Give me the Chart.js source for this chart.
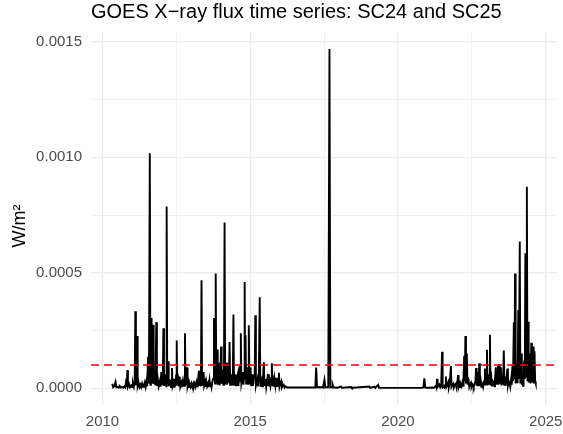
<!DOCTYPE html>
<html>
<head>
<meta charset="utf-8">
<script src="https://cdn.jsdelivr.net/npm/chart.js@4.4.0/dist/chart.umd.min.js"></script>
<style>
  html, body { margin: 0; padding: 0; background: #fff; }
  #wrap { width: 563px; height: 434px; }
</style>
</head>
<body>
<div id="wrap"><canvas id="fluxChart" width="563" height="434"></canvas></div>
<script>
// readings as [decimal year, flux in microW/m2]
var sc24Obs = [
  [2010.33, 19], [2010.36, 3], [2010.40, 8], [2010.44, 27], [2010.47, 4], [2010.51, 6], [2010.55, 2], [2010.58, 10],
  [2010.62, 3], [2010.66, 5], [2010.70, 2], [2010.74, 8], [2010.77, 3], [2010.81, 42], [2010.825, 5], [2010.84, 78],
  [2010.86, 6], [2010.90, 18], [2010.93, 4], [2010.97, 12], [2011.00, 5], [2011.03, 22], [2011.06, 6], [2011.09, 30],
  [2011.11, 333], [2011.13, 12], [2011.15, 40], [2011.17, 226], [2011.19, 10], [2011.22, 25], [2011.25, 5], [2011.28, 15],
  [2011.31, 4], [2011.34, 20], [2011.37, 6], [2011.40, 12], [2011.43, 25], [2011.46, 5], [2011.49, 30], [2011.51, 8],
  [2011.54, 136], [2011.57, 20], [2011.60, 1018], [2011.62, 15], [2011.64, 60], [2011.66, 304], [2011.68, 20], [2011.71, 275],
  [2011.73, 18], [2011.76, 45], [2011.79, 12], [2011.82, 286], [2011.84, 10], [2011.87, 40], [2011.90, 8], [2011.94, 30],
  [2011.96, 6], [2011.99, 70], [2012.01, 12], [2012.04, 45], [2012.06, 260], [2012.08, 10], [2012.11, 30], [2012.14, 60],
  [2012.155, 8], [2012.17, 787], [2012.19, 20], [2012.22, 116], [2012.24, 8], [2012.27, 35], [2012.30, 30], [2012.32, 5],
  [2012.35, 87], [2012.37, 10], [2012.40, 25], [2012.42, 6], [2012.44, 40], [2012.47, 10], [2012.49, 55], [2012.51, 206],
  [2012.53, 12], [2012.56, 35], [2012.58, 8], [2012.61, 50], [2012.63, 6], [2012.66, 20], [2012.68, 4], [2012.70, 25],
  [2012.72, 8], [2012.75, 30], [2012.77, 10], [2012.79, 238], [2012.81, 12], [2012.84, 40], [2012.86, 90], [2012.88, 8],
  [2012.91, 25], [2012.93, 5], [2012.96, 15], [2012.98, 6], [2013.01, 20], [2013.04, 4], [2013.07, 18], [2013.09, 5],
  [2013.12, 20], [2013.15, 6], [2013.18, 25], [2013.20, 8], [2013.23, 30], [2013.26, 75], [2013.28, 10], [2013.30, 40],
  [2013.33, 8], [2013.35, 467], [2013.37, 15], [2013.40, 30], [2013.42, 70], [2013.44, 10], [2013.47, 25], [2013.49, 6],
  [2013.51, 30], [2013.54, 8], [2013.57, 20], [2013.59, 5], [2013.62, 35], [2013.64, 8], [2013.67, 25], [2013.69, 6],
  [2013.72, 30], [2013.745, 40], [2013.77, 304], [2013.79, 50], [2013.81, 20], [2013.83, 497], [2013.85, 25], [2013.88, 167],
  [2013.90, 15], [2013.92, 60], [2013.94, 110], [2013.96, 12], [2013.99, 50], [2014.01, 180], [2014.03, 20], [2014.05, 45],
  [2014.07, 80], [2014.09, 15], [2014.11, 60], [2014.13, 718], [2014.15, 20], [2014.17, 40], [2014.19, 110], [2014.21, 15],
  [2014.24, 110], [2014.26, 25], [2014.28, 60], [2014.30, 200], [2014.32, 15], [2014.34, 35], [2014.36, 60], [2014.38, 12],
  [2014.41, 50], [2014.43, 319], [2014.45, 15], [2014.48, 30], [2014.50, 60], [2014.52, 12], [2014.55, 40], [2014.58, 60],
  [2014.60, 10], [2014.62, 50], [2014.64, 95], [2014.66, 30], [2014.68, 238], [2014.70, 20], [2014.73, 40], [2014.75, 70],
  [2014.77, 15], [2014.79, 60], [2014.81, 460], [2014.825, 40], [2014.84, 230], [2014.86, 20], [2014.88, 45], [2014.90, 90],
  [2014.92, 15], [2014.93, 60], [2014.95, 273], [2014.97, 20], [2014.99, 40], [2015.01, 90], [2015.03, 12], [2015.05, 30],
  [2015.07, 60], [2015.09, 10], [2015.12, 40], [2015.15, 50], [2015.17, 316], [2015.19, 12], [2015.22, 30], [2015.24, 40],
  [2015.26, 8], [2015.29, 60], [2015.32, 394], [2015.34, 10], [2015.36, 30], [2015.38, 50], [2015.40, 8], [2015.43, 40],
  [2015.46, 112], [2015.48, 10], [2015.50, 25], [2015.52, 40], [2015.54, 6], [2015.57, 35], [2015.59, 10], [2015.61, 60],
  [2015.63, 8], [2015.65, 30], [2015.68, 10], [2015.71, 45], [2015.73, 108], [2015.75, 8], [2015.78, 30], [2015.80, 6],
  [2015.82, 40], [2015.85, 10], [2015.88, 45], [2015.90, 6], [2015.93, 25], [2015.95, 10], [2015.97, 67], [2015.99, 6],
  [2016.02, 20], [2016.05, 30], [2016.07, 4], [2016.10, 12], [2016.13, 15], [2016.16, 3], [2016.19, 8], [2016.22, 6],
  [2016.25, 3], [2016.27, 3]
];

var minimumObs = [
  [2017.20, 3], [2017.23, 89], [2017.26, 4], [2017.32, 5], [2017.36, 2], [2017.41, 5], [2017.46, 2], [2017.51, 36],
  [2017.54, 3], [2017.57, 5], [2017.64, 4], [2017.68, 1469], [2017.71, 4], [2017.74, 5], [2017.77, 3], [2017.79, 15],
  [2017.82, 3], [2017.85, 3], [2017.95, 2], [2018.07, 7], [2018.10, 2], [2018.13, 2], [2018.41, 5], [2018.44, 1],
  [2018.47, 2], [2019.03, 7], [2019.06, 1], [2019.20, 7], [2019.23, 1], [2019.33, 14], [2019.36, 1], [2019.39, 1],
  [2020.78, 1], [2020.86, 3], [2020.89, 43], [2020.92, 3], [2020.95, 2]
];

var sc25Obs = [
  [2021.05, 2], [2021.17, 3], [2021.22, 2], [2021.28, 10], [2021.30, 3], [2021.32, 40], [2021.34, 4], [2021.37, 8],
  [2021.40, 15], [2021.43, 3], [2021.46, 10], [2021.49, 158], [2021.51, 4], [2021.54, 8], [2021.57, 3], [2021.60, 15],
  [2021.62, 50], [2021.64, 5], [2021.67, 12], [2021.70, 25], [2021.72, 4], [2021.75, 20], [2021.79, 96], [2021.81, 6],
  [2021.84, 15], [2021.87, 20], [2021.89, 3], [2021.92, 12], [2021.96, 20], [2021.98, 4], [2022.01, 25], [2022.03, 57],
  [2022.05, 6], [2022.08, 20], [2022.10, 5], [2022.13, 15], [2022.15, 8], [2022.18, 25], [2022.20, 10], [2022.22, 60],
  [2022.24, 140], [2022.26, 30], [2022.28, 226], [2022.30, 20], [2022.33, 150], [2022.35, 15], [2022.37, 40], [2022.39, 30],
  [2022.41, 6], [2022.44, 20], [2022.47, 25], [2022.49, 5], [2022.52, 15], [2022.54, 10], [2022.56, 4], [2022.59, 20],
  [2022.62, 30], [2022.64, 87], [2022.66, 10], [2022.69, 70], [2022.71, 12], [2022.73, 40], [2022.75, 108], [2022.77, 10],
  [2022.80, 30], [2022.82, 6], [2022.84, 20], [2022.86, 15], [2022.88, 5], [2022.91, 30], [2022.94, 85], [2022.96, 12],
  [2022.98, 50], [2023.01, 166], [2023.03, 12], [2023.05, 60], [2023.07, 15], [2023.09, 40], [2023.11, 231], [2023.13, 12],
  [2023.16, 40], [2023.18, 8], [2023.21, 30], [2023.24, 25], [2023.26, 8], [2023.28, 35], [2023.31, 90], [2023.33, 15],
  [2023.36, 40], [2023.38, 95], [2023.40, 15], [2023.42, 105], [2023.44, 20], [2023.46, 40], [2023.48, 90], [2023.50, 12],
  [2023.53, 60], [2023.55, 15], [2023.58, 163], [2023.60, 15], [2023.62, 50], [2023.64, 10], [2023.67, 40], [2023.70, 85],
  [2023.72, 12], [2023.75, 30], [2023.78, 20], [2023.80, 6], [2023.83, 40], [2023.85, 15], [2023.87, 95], [2023.89, 30],
  [2023.92, 284], [2023.94, 40], [2023.96, 497], [2023.98, 20], [2024.01, 100], [2024.03, 25], [2024.04, 120], [2024.055, 30],
  [2024.07, 339], [2024.09, 40], [2024.12, 635], [2024.14, 20], [2024.17, 150], [2024.19, 15], [2024.21, 30], [2024.23, 10],
  [2024.25, 50], [2024.27, 120], [2024.29, 40], [2024.31, 584], [2024.335, 50], [2024.36, 873], [2024.38, 30], [2024.40, 288],
  [2024.42, 25], [2024.44, 60], [2024.46, 150], [2024.48, 20], [2024.51, 197], [2024.53, 25], [2024.55, 80], [2024.57, 180],
  [2024.59, 20], [2024.62, 160], [2024.64, 30], [2024.66, 20]
];

var flareThreshold = 0.0001;   // X-class level, W/m2
var yearRange = [2009.61, 2025.38];
var fluxRange = [-0.000073, 0.001543];
var yearGrid = [2010, 2012.5, 2015, 2017.5, 2020, 2022.5, 2025];
var yearLabels = [2010, 2015, 2020, 2025];
var fluxGrid = [0, 0.00025, 0.0005, 0.00075, 0.001, 0.00125, 0.0015];
var fluxLabels = [0, 0.0005, 0.001, 0.0015];

var titleText = 'GOES X\u2212ray flux time series: SC24 and SC25';
var yTitle = 'W/m\u00B2';

Chart.defaults.font.family = '"Liberation Sans", Arial, Helvetica, sans-serif';

var series = sc24Obs.concat(minimumObs, sc25Obs).map(function (p) {
    return { x: p[0], y: p[1] * 1e-6 };
});

function isLabel(list, v) {
    return list.some(function (l) { return Math.abs(l - v) < 1e-9; });
}

// y axis title drawn by hand so it can sit where ggplot puts it
var yTitlePlugin = {
    id: 'yTitle',
    afterDraw: function (chart) {
        var c = chart.ctx;
        c.save();
        c.translate(20, 226);
        c.rotate(-Math.PI / 2);
        c.font = '18px "Liberation Sans", Arial, sans-serif';
        c.fillStyle = '#000000';
        c.textAlign = 'center';
        c.textBaseline = 'middle';
        c.fillText(yTitle, 0, 0);
        c.restore();
    }
};

var ctx = document.getElementById('fluxChart').getContext('2d');

var chart = new Chart(ctx, {
    type: 'line',
    data: {
        datasets: [
            {
                label: 'threshold',
                data: [{ x: yearRange[0], y: flareThreshold }, { x: yearRange[1], y: flareThreshold }],
                borderColor: '#FF0000',
                borderWidth: 1.5,
                borderDash: [8, 5],
                pointRadius: 0,
                order: 0
            },
            {
                label: 'flux',
                data: series,
                borderColor: '#000000',
                borderWidth: 1.9,
                pointRadius: 0,
                tension: 0,
                order: 1
            }
        ]
    },
    options: {
        responsive: false,
        animation: false,
        events: [],
        layout: { padding: { left: 0, right: 6, top: 0, bottom: 0 } },
        plugins: {
            legend: { display: false },
            tooltip: { enabled: false },
            title: {
                display: true,
                text: titleText,
                align: 'start',
                fullSize: false,
                color: '#000000',
                font: { size: 20, weight: 'normal' },
                padding: { top: 0, bottom: 8 }
            }
        },
        scales: {
            x: {
                type: 'linear',
                min: yearRange[0],
                max: yearRange[1],
                afterBuildTicks: function (scale) {
                    scale.ticks = yearGrid.map(function (v) { return { value: v }; });
                },
                afterFit: function (scale) {
                    scale.height = 29;
                    scale.paddingLeft = 0;
                    scale.paddingRight = 0;
                },
                border: { display: false },
                grid: {
                    drawTicks: false,
                    color: '#EBEBEB',
                    lineWidth: function (c) { return isLabel(yearLabels, c.tick.value) ? 1.3 : 0.7; }
                },
                ticks: {
                    autoSkip: false,
                    maxRotation: 0,
                    padding: 8,
                    color: '#4D4D4D',
                    font: { size: 15 },
                    callback: function (v) { return isLabel(yearLabels, v) ? String(v) : ''; }
                }
            },
            y: {
                type: 'linear',
                min: fluxRange[0],
                max: fluxRange[1],
                afterBuildTicks: function (scale) {
                    scale.ticks = fluxGrid.map(function (v) { return { value: v }; });
                },
                afterFit: function (scale) {
                    scale.width = 91;
                    scale.paddingTop = 0;
                    scale.paddingBottom = 0;
                },
                border: { display: false },
                grid: {
                    drawTicks: false,
                    color: '#EBEBEB',
                    lineWidth: function (c) { return isLabel(fluxLabels, c.tick.value) ? 1.3 : 0.7; }
                },
                ticks: {
                    autoSkip: false,
                    padding: 9,
                    color: '#4D4D4D',
                    font: { size: 15 },
                    callback: function (v) { return isLabel(fluxLabels, v) ? v.toFixed(4) : ''; }
                }
            }
        }
    },
    plugins: [yTitlePlugin]
});
</script>
</body>
</html>
